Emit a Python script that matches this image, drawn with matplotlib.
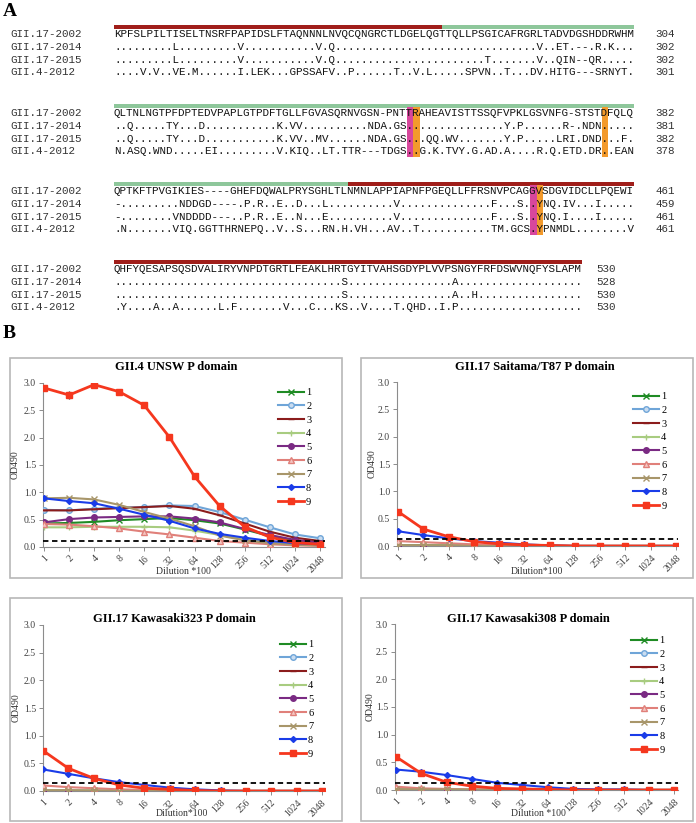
"""
Norovirus P domain figure: (A) capsid P domain alignment, (B) ELISA binding
curves of nine mAbs against four P domains.
"""

import matplotlib
matplotlib.use("Agg")
import matplotlib.pyplot as plt
from matplotlib.patches import Rectangle

W, H = 696, 823

# ---------------------------------------------------------------- panel A data
strain_names = ["GII.17-2002", "GII.17-2014", "GII.17-2015", "GII.4-2012"]

block1_rows = [
    "KPFSLPILTISELTNSRFPAPIDSLFTAQNNNLNVQCQNGRCTLDGELQGTTQLLPSGICAFRGRLTADVDGSHDDRWHM",
    ".........L" ".........V" ".........." ".V.Q.." ".........." ".........." "........." "V..ET.--.R.K...",
    ".........L" ".........V" ".........." ".V.Q.." ".........." ".........." "." "T" "......." "V..QIN--QR.....",
    "....V.V..V" "E.M......I" ".LEK...GPS" "SAFV.." "P......T.." "V.L.....SP" "VN..T...DV" ".HITG---SR" "NYT.",
]
block1_ends = [304, 302, 302, 301]

block2_rows = [
    "QLTNLNGTPFDPTEDVPAPLGTPDFTGLLFGVASQR" "NVGSN-PNTTRAHEAVISTTSSQFVPKLGSVNFG-STSTDFQLQ",
    "..Q.....TY" "...D......" ".....K.VV." "......" "...NDA.GS." ".........." "....Y.P..." "...R-.NDN." "....",
    "..Q.....TY" "...D......" ".....K.VV." ".MV..." "...NDA.GS." "..QQ.WV..." "....Y.P..." "..LRI.DND." "..F.",
    "N.ASQ.WND." "....EI...." ".....V.KIQ" "..LT.T" "TR---TDGS." ".G.K.TVY.G" ".AD.A....R" ".Q.ETD.DR." ".EAN",
]
block2_ends = [382, 381, 382, 378]

block3_rows = [
    "QPTKFTPVGIKIES----GHEFDQWALPRYSGHLTL" "NMNLAPPIAPNFPGEQLLFFRSNVPCAGGVSDGVIDCLLPQEWI",
    "-........." "NDDGD----." "P.R..E..D." "..L..." ".......V.." ".........." "..F...S..Y" "NQ.IV...I." "....",
    "-........V" "NDDDD---.." "P.R..E..N." "..E..." ".......V.." ".........." "..F...S..Y" "NQ.I....I." "....",
    ".N.......V" "IQ.GGTTHRN" "EPQ..V..S." "..RN.H" ".VH...AV.." "T........." "..TM.GCS.Y" "PNMDL....." "...V",
]
block3_ends = [461, 459, 461, 461]

block4_rows = [
    "QHFYQESAPSQSDVALIRYVNPDTGRTLFEAKLHRT" "GYITVAHSGDYPLVVPSNGYFRFDSWVNQFYSLAPM",
    ".........." ".........." ".........." ".....S" ".........." "......A..." ".........." "......",
    ".........." ".........." ".........." ".....S" ".........." "......A..H" ".........." "......",
    ".Y....A..A" "......L.F." "......V..." "C...KS" "..V....T.Q" "HD..I.P..." ".........." "......",
]
block4_ends = [530, 528, 530, 530]

# subdomain spans above the reference sequence (column start, column end)
p1_spans = [[(0, 50.5)], [], [(36, 80)], [(0, 72)]]
p2_spans = [[(50.5, 80)], [(0, 80)], [(0, 36)], []]
# highlighted alignment columns
pink_cols = [[], [45], [64], []]
orange_cols = [[], [46, 75], [65], []]

# ---------------------------------------------------------------- panel B data
dilutions = ["1", "2", "4", "8", "16", "32", "64", "128", "256", "512", "1024", "2048"]
mab_labels = ["1", "2", "3", "4", "5", "6", "7", "8", "9"]

unsw_od = [
    [0.43, 0.44, 0.46, 0.49, 0.51, 0.53, 0.49, 0.43, 0.32, 0.20, 0.12, 0.08],
    [0.68, 0.67, 0.70, 0.72, 0.73, 0.76, 0.75, 0.64, 0.50, 0.36, 0.23, 0.16],
    [0.67, 0.67, 0.69, 0.71, 0.73, 0.75, 0.70, 0.58, 0.43, 0.28, 0.17, 0.11],
    [0.36, 0.36, 0.37, 0.37, 0.37, 0.36, 0.30, 0.22, 0.14, 0.08, 0.05, 0.03],
    [0.45, 0.51, 0.54, 0.55, 0.56, 0.56, 0.52, 0.45, 0.33, 0.22, 0.13, 0.08],
    [0.42, 0.41, 0.38, 0.34, 0.28, 0.23, 0.17, 0.11, 0.08, 0.05, 0.03, 0.02],
    [0.89, 0.90, 0.87, 0.77, 0.64, 0.52, 0.38, 0.21, 0.12, 0.07, 0.04, 0.03],
    [0.89, 0.84, 0.80, 0.70, 0.59, 0.48, 0.34, 0.24, 0.17, 0.11, 0.07, 0.05],
    [2.91, 2.78, 2.97, 2.84, 2.59, 2.01, 1.29, 0.75, 0.37, 0.18, 0.08, 0.05],
]
unsw_err9 = [0.03, 0.07, 0.06, 0.05, 0.02, 0.05, 0.03, 0.02, 0.02, 0.01, 0.01, 0.01]

saitama_od = [
    [0.01, 0.01, 0.01, 0.01, 0.00, 0.00, 0.00, 0.00, 0.00, 0.00, 0.00, 0.00],
    [0.00, 0.00, 0.00, 0.00, 0.00, 0.00, 0.00, 0.00, 0.00, 0.00, 0.00, 0.00],
    [0.01, 0.01, 0.00, 0.00, 0.00, 0.00, 0.00, 0.00, 0.00, 0.00, 0.00, 0.00],
    [0.01, 0.01, 0.01, 0.00, 0.00, 0.00, 0.00, 0.00, 0.00, 0.00, 0.00, 0.00],
    [0.00, 0.00, 0.00, 0.00, 0.00, 0.00, 0.00, 0.00, 0.00, 0.00, 0.00, 0.00],
    [0.09, 0.07, 0.05, 0.03, 0.02, 0.01, 0.01, 0.00, 0.00, 0.00, 0.00, 0.00],
    [0.01, 0.01, 0.01, 0.00, 0.00, 0.00, 0.00, 0.00, 0.00, 0.00, 0.00, 0.00],
    [0.27, 0.20, 0.14, 0.09, 0.06, 0.03, 0.01, 0.00, 0.00, 0.00, 0.00, 0.00],
    [0.63, 0.31, 0.17, 0.08, 0.04, 0.02, 0.01, 0.00, 0.00, 0.00, 0.00, 0.00],
]

kaw323_od = [
    [0.00, 0.00, 0.00, 0.00, 0.00, 0.00, 0.00, 0.00, 0.00, 0.00, 0.00, 0.00],
    [0.00, 0.00, 0.00, 0.00, 0.00, 0.00, 0.00, 0.00, 0.00, 0.00, 0.00, 0.00],
    [0.01, 0.01, 0.00, 0.00, 0.00, 0.00, 0.00, 0.00, 0.00, 0.00, 0.00, 0.00],
    [0.01, 0.01, 0.01, 0.00, 0.00, 0.00, 0.00, 0.00, 0.00, 0.00, 0.00, 0.00],
    [0.00, 0.00, 0.00, 0.00, 0.00, 0.00, 0.00, 0.00, 0.00, 0.00, 0.00, 0.00],
    [0.10, 0.07, 0.05, 0.03, 0.02, 0.01, 0.01, 0.00, 0.00, 0.00, 0.00, 0.00],
    [0.01, 0.01, 0.01, 0.00, 0.00, 0.00, 0.00, 0.00, 0.00, 0.00, 0.00, 0.00],
    [0.39, 0.31, 0.23, 0.16, 0.11, 0.06, 0.03, 0.01, 0.00, 0.00, 0.00, 0.00],
    [0.73, 0.41, 0.23, 0.11, 0.05, 0.03, 0.01, 0.00, 0.00, 0.00, 0.00, 0.00],
]

kaw308_od = [
    [0.00, 0.00, 0.00, 0.00, 0.00, 0.00, 0.00, 0.00, 0.00, 0.00, 0.00, 0.00],
    [0.00, 0.00, 0.00, 0.00, 0.00, 0.00, 0.00, 0.00, 0.00, 0.00, 0.00, 0.00],
    [0.01, 0.01, 0.00, 0.00, 0.00, 0.00, 0.00, 0.00, 0.00, 0.00, 0.00, 0.00],
    [0.01, 0.01, 0.01, 0.00, 0.00, 0.00, 0.00, 0.00, 0.00, 0.00, 0.00, 0.00],
    [0.00, 0.00, 0.00, 0.00, 0.00, 0.00, 0.00, 0.00, 0.00, 0.00, 0.00, 0.00],
    [0.06, 0.03, 0.02, 0.01, 0.01, 0.00, 0.00, 0.00, 0.00, 0.00, 0.00, 0.00],
    [0.01, 0.01, 0.01, 0.01, 0.00, 0.00, 0.00, 0.00, 0.00, 0.00, 0.00, 0.00],
    [0.37, 0.33, 0.27, 0.20, 0.13, 0.09, 0.05, 0.02, 0.01, 0.01, 0.00, 0.00],
    [0.60, 0.30, 0.14, 0.07, 0.03, 0.02, 0.01, 0.00, 0.00, 0.00, 0.00, 0.00],
]

chart_titles = ["GII.4 UNSW P domain", "GII.17 Saitama/T87 P domain",
                "GII.17 Kawasaki323 P domain", "GII.17 Kawasaki308 P domain"]
xlabels = ["Dilution *100", "Dilution*100", "Dilution*100", "Dilution *100"]
cutoffs = [0.11, 0.13, 0.14, 0.12]

# ---------------------------------------------------------------- styles
mab_colors = ["#1f8b24", "#6fa5d8", "#8b1c1c", "#a8cc80", "#7a2a83",
              "#e0807a", "#a8966a", "#1a3ce8", "#f5371e"]
mab_markers = ["x", "o", "_", "+", "o", "^", "x", "D", "s"]
mab_mfc = ["#1f8b24", "#c9dcf0", "#8b1c1c", "#a8cc80", "#7a2a83",
           "#f4c6c2", "#a8966a", "#1a3ce8", "#f5371e"]
mab_ms = [4, 4, 5, 5, 4, 4, 4, 3, 4.5]

SERIF = "Liberation Serif"
MONO = "Liberation Mono"

fig = plt.figure(figsize=(W / 100, H / 100), dpi=100)
bg = fig.add_axes([0, 0, 1, 1])
bg.set_xlim(0, W)
bg.set_ylim(H, 0)
bg.axis("off")

# ---------------------------------------------------------------- panel A
seq_x0, cw, name_x = 114, 6.5, 10
block_y0 = [34, 113, 191, 269]
row_dy = 12.8
blocks = [block1_rows, block2_rows, block3_rows, block4_rows]
ends = [block1_ends, block2_ends, block3_ends, block4_ends]
num_x = [655, 655, 655, 596]

bg.text(3, 11, "A", fontsize=14, fontweight="bold", family=SERIF, va="center")
bg.text(3, 333, "B", fontsize=14, fontweight="bold", family=SERIF, va="center")

for b, rows in enumerate(blocks):
    y0 = block_y0[b]
    for s, e in p1_spans[b]:
        bg.add_patch(Rectangle((seq_x0 + s * cw, y0 - 9.2), (e - s) * cw, 4.2,
                               color="#a01e1a", lw=0))
    for s, e in p2_spans[b]:
        bg.add_patch(Rectangle((seq_x0 + s * cw, y0 - 9.2), (e - s) * cw, 4.2,
                               color="#8ec79b", lw=0))
    for c in pink_cols[b]:
        bg.add_patch(Rectangle((seq_x0 + c * cw, y0 - 6), cw, 3 * row_dy + 12,
                               color="#d8479c", lw=0))
    for c in orange_cols[b]:
        bg.add_patch(Rectangle((seq_x0 + c * cw, y0 - 6), cw, 3 * row_dy + 12,
                               color="#f39a2c", lw=0))
    for r, seq in enumerate(rows):
        assert len(seq) == len(rows[0]), (b, r, len(seq))
        y = y0 + r * row_dy
        bg.text(name_x, y, strain_names[r], family=MONO, fontsize=7.8,
                va="center", ha="left", color="#333333")
        bg.text(seq_x0, y, seq, family=MONO, fontsize=7.8,
                va="center", ha="left", color="#111111")
        bg.text(num_x[b], y, str(ends[b][r]), family=MONO, fontsize=7.8,
                va="center", ha="left", color="#333333")

# ---------------------------------------------------------------- panel B
boxes = [(10, 358, 342, 578), (361, 358, 693, 578),
         (10, 598, 342, 821), (361, 598, 693, 821)]
plot_px = [(43, 383, 325, 547), (397, 382, 678, 546),
           (43, 625, 325, 791), (395, 624, 678, 790)]
xlims = [(-0.04, 11.2), (-0.04, 11.08), (0.0, 11.12), (-0.04, 11.15)]
title_xy = [(176, 367), (535, 367), (174, 619), (528, 619)]
xlabel_xy = [(183, 572), (537, 572), (182, 813), (538, 813)]
ylabel_xy = [(15, 465), (372, 464), (16, 708), (370, 707)]
legend_xy = [(278, 388), (633, 392), (280, 640), (631, 636)]
datasets = [unsw_od, saitama_od, kaw323_od, kaw308_od]

for k in range(4):
    x0, y0, x1, y1 = boxes[k]
    bg.add_patch(Rectangle((x0, y0), x1 - x0, y1 - y0, fill=False,
                           ec="#b8b8b8", lw=1.2))
    px0, py0, px1, py1 = plot_px[k]
    ax = fig.add_axes([px0 / W, 1 - py1 / H, (px1 - px0) / W, (py1 - py0) / H])
    ax.set_facecolor("none")
    xs = list(range(len(dilutions)))
    for i, vals in enumerate(datasets[k]):
        lw = 2.0 if i == 8 else 1.5
        ax.plot(xs, vals, color=mab_colors[i], lw=lw, marker=mab_markers[i],
                ms=mab_ms[i], mfc=mab_mfc[i], mec=mab_colors[i], mew=1,
                label=mab_labels[i], zorder=3 + i)
        if k == 0 and i == 8:
            ax.errorbar(xs, vals, yerr=unsw_err9, fmt="none", ecolor="#222222",
                        elinewidth=1, capsize=0, zorder=2 + i)
    ax.axhline(cutoffs[k], color="black", ls=(0, (3, 2)), lw=1.3, zorder=20)

    ax.set_xlim(*xlims[k])
    ax.set_ylim(0, 3.0)
    ax.set_yticks([0, 0.5, 1.0, 1.5, 2.0, 2.5, 3.0])
    ax.set_yticklabels([f"{v:.1f}" for v in [0, 0.5, 1.0, 1.5, 2.0, 2.5, 3.0]],
                       family=SERIF, fontsize=7, color="#404040")
    ax.set_xticks(xs)
    ax.set_xticklabels(dilutions, rotation=45, ha="right", rotation_mode="anchor",
                       family=SERIF, fontsize=7, color="#404040")
    for side in ["top", "right"]:
        ax.spines[side].set_visible(False)
    for side in ["left", "bottom"]:
        ax.spines[side].set_color("#8c8c8c")
        ax.spines[side].set_linewidth(0.8)
    ax.tick_params(length=3, width=0.7, color="#8c8c8c", pad=2)

    leg = ax.legend(loc="upper left", bbox_to_anchor=(legend_xy[k][0] / W, 1 - legend_xy[k][1] / H),
                    bbox_transform=fig.transFigure, frameon=False, numpoints=1,
                    prop={"family": SERIF, "size": 7.5}, handlelength=2.5,
                    handletextpad=0.2, labelspacing=0.42, borderpad=0, borderaxespad=0)
    leg.set_zorder(30)

    bg.text(*title_xy[k], chart_titles[k], family=SERIF, fontsize=9,
            fontweight="bold", ha="center", va="center")
    bg.text(*xlabel_xy[k], xlabels[k], family=SERIF, fontsize=7,
            ha="center", va="center", color="#333333")
    bg.text(*ylabel_xy[k], "OD490", family=SERIF, fontsize=7, rotation=90,
            ha="center", va="center", color="#333333")

fig.savefig("out.png", dpi=100)
